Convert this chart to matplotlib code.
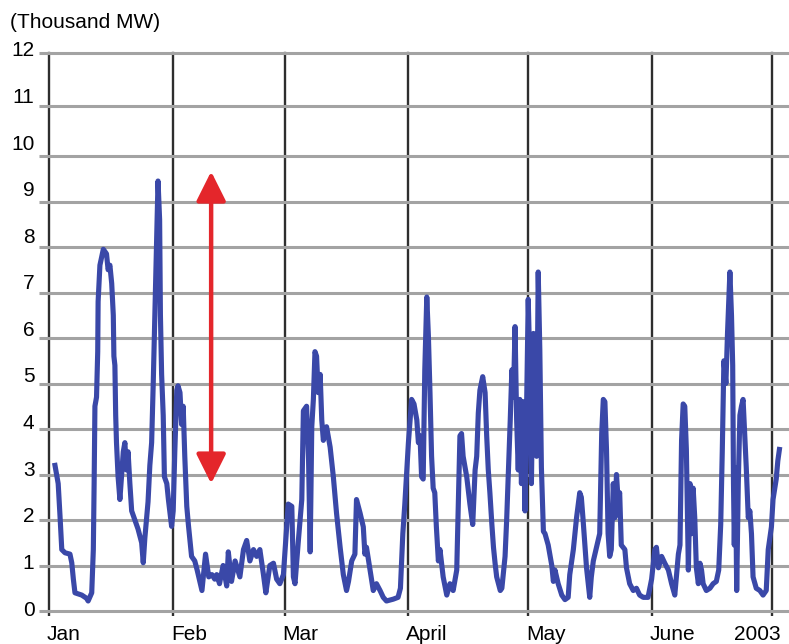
import numpy as np
import matplotlib
matplotlib.use('Agg')
import matplotlib.pyplot as plt
from matplotlib.transforms import ScaledTranslation

# day of year 2003 (0 = Jan 1) and daily flow in thousand MW
days = [1.5, 2.3, 2.75, 3.2, 4.0, 5.25, 5.7, 6.1, 6.5, 8.2, 9.4, 9.8, 10.7, 11.1, 11.3, 11.5,
        11.9, 12.2, 12.3, 12.75, 13.6, 14.4, 14.8, 15.25, 15.7, 16.1, 16.25, 16.5, 16.7, 16.9,
        17.3, 17.75, 18.2, 18.6, 19.0, 19.4, 19.8, 20.25, 20.7, 21.5, 22.3, 23.2, 23.6, 24.0,
        24.8, 25.25, 25.7, 26.1, 26.5, 26.9, 27.3, 27.7, 27.9, 28.2, 28.6, 28.9, 29.5, 29.9,
        30.7, 31.1, 31.5, 32.0, 32.3, 32.8, 33.2, 33.6, 34.0, 34.5, 34.9, 35.7, 36.5, 37.1,
        38.3, 39.2, 40.0, 40.8, 41.5, 42.0, 42.7, 43.6, 44.5, 44.9, 45.7, 46.6, 47.8, 48.7,
        49.5, 50.3, 51.2, 52.0, 52.8, 53.7, 54.3, 55.3, 56.2, 57.0, 57.8, 58.7, 59.9, 60.8,
        61.2, 61.6, 62.4, 63.3, 63.7, 64.5, 65.0, 65.4, 65.8, 66.2, 66.6, 67.0, 67.4, 67.9,
        68.3, 68.7, 69.5, 70.4, 71.2, 72.0, 72.9, 73.7, 74.5, 75.0, 75.8, 76.6, 77.0, 77.9,
        78.7, 79.1, 79.5, 80.4, 81.2, 82.0, 82.9, 83.7, 84.5, 86.2, 87.4, 88.0, 88.6, 89.1,
        90.0, 90.8, 91.4, 92.1, 92.5, 92.9, 93.3, 93.7, 94.1, 94.6, 95.0, 95.4, 95.8, 96.2,
        96.6, 97.0, 97.5, 97.9, 98.3, 98.7, 99.6, 100.4, 101.2, 102.1, 102.5, 102.9, 103.3,
        103.7, 104.6, 105.4, 106.1, 106.7, 107.1, 107.5, 107.9, 108.6, 109.2, 109.6, 110.0,
        110.4, 110.9, 111.3, 111.7, 112.1, 113.0, 113.4, 114.2, 114.6, 115.0, 115.5, 115.9,
        116.3, 116.7, 117.1, 117.5, 117.9, 118.3, 118.8, 119.2, 119.6, 120.0, 120.4, 120.8,
        121.3, 121.7, 122.1, 122.5, 122.9, 123.3, 123.8, 124.2, 125.0, 125.9, 126.3, 126.7,
        127.5, 128.4, 129.2, 130.0, 130.4, 131.3, 132.1, 132.9, 133.3, 133.7, 134.2, 134.6,
        135.4, 135.8, 136.3, 137.1, 137.9, 138.4, 138.8, 139.2, 139.6, 140.0, 140.4, 140.8,
        141.3, 141.7, 142.1, 142.5, 142.9, 143.3, 144.2, 144.6, 145.4, 146.3, 147.1, 147.9,
        148.8, 150.0, 150.9, 151.7, 152.1, 152.6, 153.4, 154.2, 155.1, 155.9, 156.7, 157.6,
        158.0, 158.4, 158.8, 159.2, 159.6, 160.1, 160.5, 160.9, 161.3, 161.7, 162.1, 162.6,
        163.0, 163.4, 163.8, 164.6, 165.5, 166.3, 167.1, 167.7, 168.2, 168.6, 169.0, 169.5,
        169.9, 170.5, 170.9, 171.2, 171.4, 171.6, 171.9, 172.2, 172.6, 173.0, 173.4, 173.8,
        174.2, 174.6, 175.1, 175.5, 175.9, 176.3, 177.1, 178.0, 178.8, 179.6, 180.1, 180.9,
        181.3, 182.1, 182.5, 182.9]
mw = [3.2, 2.8, 2.1, 1.35, 1.28, 1.25, 1.06, 0.7, 0.4, 0.35, 0.28, 0.22, 0.4, 1.35, 2.8, 4.5,
      4.7, 5.7, 6.8, 7.6, 7.95, 7.85, 7.5, 7.6, 7.2, 6.5, 5.6, 5.4, 4.3, 3.7,
      2.95, 2.45, 3.0, 3.5, 3.7, 3.1, 3.5, 2.8, 2.2, 2.0, 1.8, 1.5, 1.06, 1.6,
      2.4, 3.2, 3.7, 5.0, 6.5, 7.9, 9.45, 8.6, 6.5, 5.2, 4.3, 2.95, 2.8, 2.45,
      1.86, 2.2, 3.5, 4.85, 4.95, 4.8, 4.1, 4.5, 3.4, 2.3, 1.9, 1.2, 1.1, 0.9,
      0.45, 1.25, 0.75, 0.8, 0.7, 0.8, 0.6, 1.0, 0.55, 1.3, 0.65, 1.1, 0.75, 1.35,
      1.55, 1.1, 1.35, 1.2, 1.35, 0.8, 0.4, 1.0, 1.05, 0.7, 0.6, 0.8, 2.35, 2.3,
      0.75, 0.6, 1.5, 2.45, 4.4, 4.5, 3.3, 1.3, 4.05, 4.65, 5.7, 5.6, 4.8, 5.2,
      4.2, 3.75, 4.05, 3.6, 2.95, 2.15, 1.4, 0.8, 0.45, 0.65, 1.1, 1.25, 2.45, 2.15,
      1.85, 1.25, 1.4, 0.9, 0.45, 0.6, 0.45, 0.3, 0.22, 0.26, 0.3, 0.5, 1.7, 2.35,
      3.7, 4.65, 4.55, 4.2, 3.7, 3.85, 2.95, 2.9, 5.3, 6.9, 6.05, 4.8, 3.4, 2.7,
      2.6, 1.85, 1.1, 1.35, 1.05, 0.75, 0.35, 0.6, 0.45, 0.9, 2.35, 3.85, 3.9,
      3.4, 2.95, 2.35, 1.9, 3.1, 3.4, 4.35, 4.85, 5.15, 4.8, 3.85, 3.1,
      2.6, 1.9, 1.4, 1.05, 0.75, 0.45, 0.5, 1.2, 2.0, 2.95, 4.2, 5.3,
      4.7, 6.25, 4.2, 3.1, 4.65, 2.8, 4.6, 2.2, 4.5, 6.85, 5.4, 2.8,
      6.1, 4.3, 3.4, 7.45, 5.75, 3.15, 1.75, 1.7, 1.45, 1.0, 0.65, 0.9,
      0.6, 0.35, 0.25, 0.3, 0.8, 1.35, 2.05, 2.6, 2.5, 2.05, 1.45, 0.95,
      0.3, 0.75, 1.1, 1.4, 1.7, 3.9, 4.65, 4.6, 3.55, 1.7, 1.2, 1.35,
      2.8, 2.05, 3.0, 2.45, 2.6, 1.45, 1.35, 0.95, 0.6, 0.45, 0.5, 0.35,
      0.3, 0.3, 0.7, 1.35, 1.4, 0.95, 1.2, 1.05, 0.9, 0.6, 0.35, 1.25,
      1.45, 3.75, 4.55, 4.5, 3.55, 0.9, 2.8, 1.7, 2.7, 2.05, 0.95, 0.6,
      1.05, 0.9, 0.6, 0.45, 0.5, 0.6, 0.65, 0.9, 1.9, 3.55, 5.5, 5.0,
      6.1, 7.45, 6.5, 5.4, 2.8, 1.45, 3.15, 0.45, 2.8, 4.3, 4.5, 4.65,
      3.9, 3.15, 2.05, 2.2, 1.7, 0.75, 0.5, 0.45, 0.35, 0.45, 1.35, 1.85,
      2.45, 2.9, 3.3, 3.55]

month_days = [0, 31, 59, 90, 120, 151, 181]
month_labels = ['Jan', 'Feb', 'Mar', 'April', 'May', 'June', '2003']
y_ticks = list(range(13))

arrow_day = 40.6
arrow_top = 9.66
arrow_bottom = 2.8

# the gridlines above 10 are spaced wider than the rest in the original
grid_v = [0, 10, 11, 12]
grid_px = [0, 455, 505, 558]


def fwd(v):
    return np.interp(v, grid_v, grid_px)


def inv(p):
    return np.interp(p, grid_px, grid_v)


plt.rcParams['font.family'] = ['Liberation Sans', 'DejaVu Sans']

fig = plt.figure(figsize=(7.89, 6.44), dpi=100)
ax = fig.add_axes([49/789, 33/644, 740/789, 558/644])
ax.set_yscale('function', functions=(fwd, inv))

ax.plot(days, mw, color='#3a48a8', lw=3.7, zorder=3, solid_joinstyle='round')

ax.set_xlim(0, 185.3)
ax.set_ylim(0, 12)
ax.set_xticks(month_days)
ax.set_xticklabels(month_labels)
ax.set_yticks(y_ticks)
ax.set_yticklabels([str(v) for v in y_ticks])

for s in ax.spines.values():
    s.set_visible(False)

ax.grid(axis='y', color='#a3a3a3', lw=2.2)
ax.grid(axis='x', color='#2e2e2e', lw=1.7)
for gl in ax.get_ygridlines() + ax.get_xgridlines():
    gl.set_clip_on(False)

ax.tick_params(axis='y', length=7, width=2.2, color='#a3a3a3', pad=3.5, labelsize=15)
ax.tick_params(axis='x', length=3.6, width=1.7, color='#2e2e2e', pad=6.5, labelsize=15)

# y labels sit evenly spaced, a little above their gridlines
for tick, v in zip(ax.yaxis.get_major_ticks(), y_ticks):
    off = 3 + 46.6 * v - fwd(v)
    tick.label1.set_transform(tick.label1.get_transform() +
                              ScaledTranslation(0, off / 100, fig.dpi_scale_trans))

for tick, lab in zip(ax.xaxis.get_major_ticks(), month_labels):
    if lab == '2003':
        tick.label1.set_horizontalalignment('right')
        dx = 9
    else:
        tick.label1.set_horizontalalignment('left')
        dx = -2
    tick.label1.set_transform(tick.label1.get_transform() +
                              ScaledTranslation(dx / 100, 0, fig.dpi_scale_trans))

ax.annotate('', xy=(arrow_day, arrow_bottom), xytext=(arrow_day, arrow_top),
            arrowprops=dict(arrowstyle='<|-|>,head_length=0.9,head_width=0.45',
                            mutation_scale=20, color='#e4262b', lw=3.2,
                            shrinkA=0, shrinkB=0), zorder=4)

fig.text(10/789, 1 - 23/644, '(Thousand MW)', fontsize=15, ha='left', va='center')

fig.savefig('out.png', dpi=100)
